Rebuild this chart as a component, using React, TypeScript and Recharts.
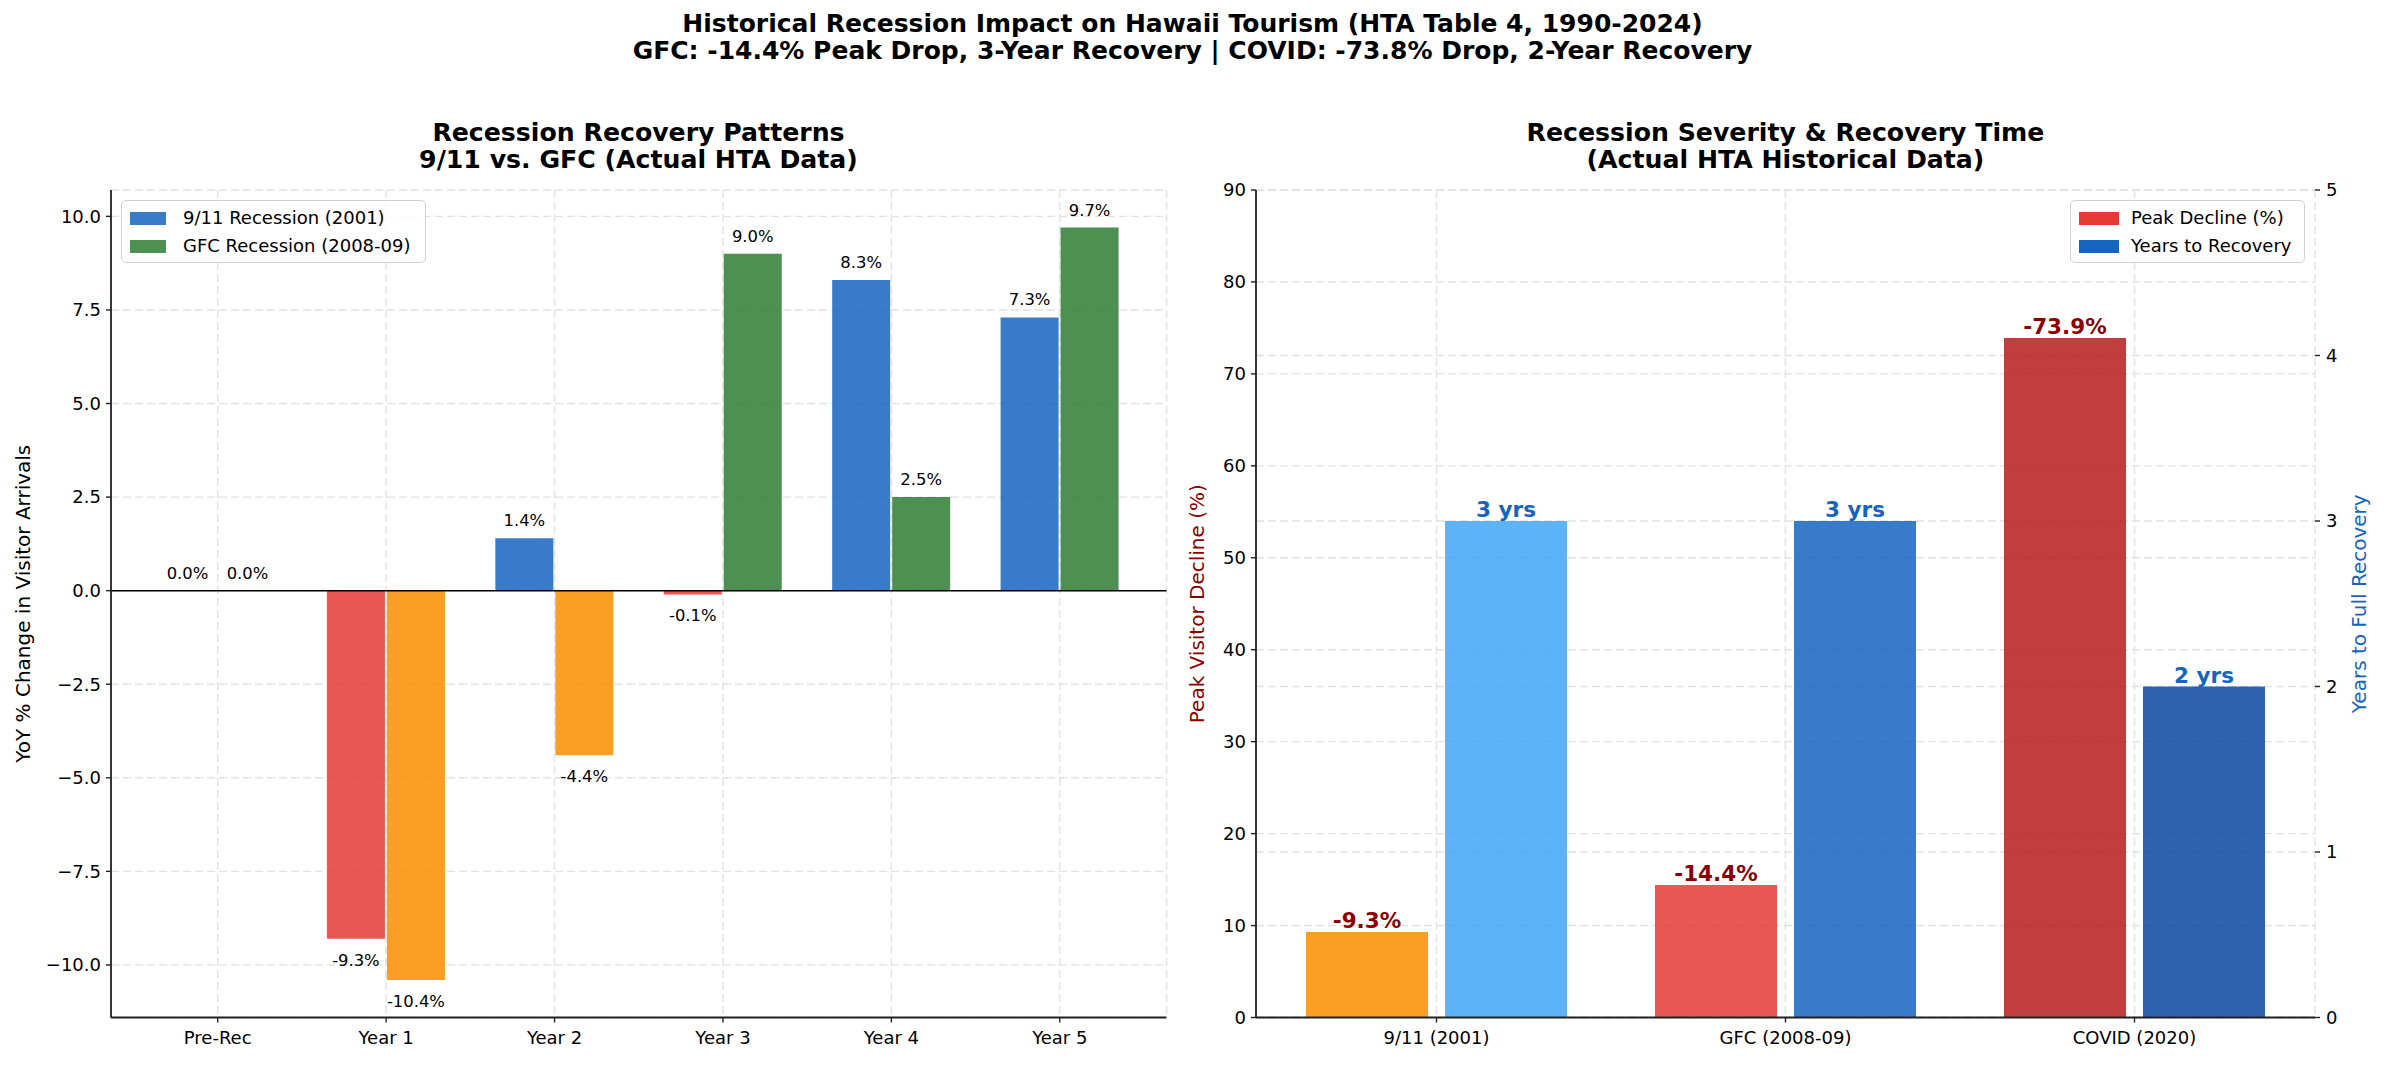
import React from "react";
import { BarChart, Bar, XAxis, YAxis, CartesianGrid, ReferenceLine, Cell } from "recharts";

// left panel: YoY change after each recession
const phases = ["Pre-Rec", "Year 1", "Year 2", "Year 3", "Year 4", "Year 5"];
const sept11Change = [0.0, -9.3, 1.4, -0.1, 8.3, 7.3];
const gfcChange = [0.0, -10.4, -4.4, 9.0, 2.5, 9.7];
const changeTicks = [-10, -7.5, -5, -2.5, 0, 2.5, 5, 7.5, 10];

// right panel: severity vs recovery time
const recessions = ["9/11 (2001)", "GFC (2008-09)", "COVID (2020)"];
const peakDecline = [9.3, 14.4, 73.9];
const recoveryYears = [3, 3, 2];
const declineTicks = [0, 10, 20, 30, 40, 50, 60, 70, 80, 90];
const yearTicks = [0, 1, 2, 3, 4, 5];

const leftLegend = ["9/11 Recession (2001)", "GFC Recession (2008-09)"];
const rightLegend = ["Peak Decline (%)", "Years to Recovery"];

const BLUE = "#1565C0";
const GREEN = "#2E7D32";
const RED = "#E53935";
const ORANGE = "#FB8C00";
const DARK_RED = "#8B0000";
const peakColors = [ORANGE, RED, "#B71C1C"];
const yearColors = ["#42A5F5", BLUE, "#0D47A1"];

const FONT = "DejaVu Sans, sans-serif";
const AXIS = "#222";
const GRID = "#e2e2e2";

const changeData = phases.map((p, i) => ({ phase: p, sept11: sept11Change[i], gfc: gfcChange[i] }));
const severityData = recessions.map((r, i) => ({ name: r, peak: peakDecline[i], years: recoveryYears[i] }));

const fmtTick = (v: number) => (v < 0 ? "\u2212" + Math.abs(v).toFixed(1) : v.toFixed(1));

const axisTitle = (text: string, color: string, dx: number) => (props: any) => {
  const vb = props.viewBox;
  const cx = vb.x + dx;
  const cy = vb.y + vb.height / 2;
  return (
    <text x={cx} y={cy} transform={`rotate(-90 ${cx} ${cy})`} textAnchor="middle" dominantBaseline="central"
      fontSize={20} fill={color} fontFamily={FONT}>
      {text}
    </text>
  );
};

const changeLabel = (props: any) => {
  const { x, y, width, height, value } = props;
  const top = Math.min(y, y + height);
  const bottom = Math.max(y, y + height);
  const ty = value >= 0 ? top - 12 : bottom + 27;
  return (
    <text x={x + width / 2} y={ty} textAnchor="middle" fontSize={16.4} fill="#000" fontFamily={FONT}>
      {value.toFixed(1)}%
    </text>
  );
};

const severityLabel = (fmt: (v: number) => string, color: string) => (props: any) => {
  const { x, y, width, height, value } = props;
  const top = Math.min(y, y + height);
  return (
    <text x={x + width / 2} y={top - 4} textAnchor="middle" fontSize={21.5} fontWeight="bold" fill={color} fontFamily={FONT}>
      {fmt(value)}
    </text>
  );
};

const tickStyle = { fontSize: 18, fill: "#000", fontFamily: FONT };

function LegendBox({ left, labels, colors, swatchW, textX, width, opacity }: any) {
  return (
    <div style={{ position: "absolute", left, top: 200, width, height: 61, border: "1.5px solid #d0d0d0", borderRadius: 5, background: "rgba(255,255,255,0.8)", fontFamily: FONT, fontSize: 18, whiteSpace: "nowrap" }}>
      {labels.map((l: string, i: number) => (
        <div key={l} style={{ position: "absolute", top: 7 + i * 28, left: 0, height: 20 }}>
          <div style={{ position: "absolute", left: 8, width: swatchW, height: 13, top: 4, background: colors[i], opacity }} />
          <span style={{ position: "absolute", left: textX, top: -2, lineHeight: "24px" }}>{l}</span>
        </div>
      ))}
    </div>
  );
}

const titleStyle: React.CSSProperties = { position: "absolute", top: 119, textAlign: "center", fontWeight: "bold", fontSize: 25.2, lineHeight: "27px" };

export default function App() {
  return (
    <div style={{ position: "absolute", left: 0, top: 0, width: 2385, height: 1068, background: "#fff", fontFamily: FONT, overflow: "hidden" }}>
      <div style={{ position: "absolute", left: 0, top: 10, width: 2385, textAlign: "center", fontWeight: "bold", fontSize: 25, lineHeight: "27px" }}>
        <div>Historical Recession Impact on Hawaii Tourism (HTA Table 4, 1990-2024)</div>
        <div>GFC: -14.4% Peak Drop, 3-Year Recovery | COVID: -73.8% Drop, 2-Year Recovery</div>
      </div>
      <div style={{ ...titleStyle, left: 111, width: 1055 }}>
        <div>Recession Recovery Patterns</div>
        <div>9/11 vs. GFC (Actual HTA Data)</div>
      </div>
      <div style={{ ...titleStyle, left: 1256, width: 1059 }}>
        <div>Recession Severity &amp; Recovery Time</div>
        <div>(Actual HTA Historical Data)</div>
      </div>

      <div style={{ position: "absolute", left: 0, top: 0 }}>
        <BarChart width={1170} height={1068} data={changeData} margin={{ top: 190, right: 3.5, bottom: 0.5, left: 0 }} barSize={58} barGap={2}>
          <CartesianGrid stroke={GRID} strokeDasharray="8 4" strokeWidth={1.4} />
          <XAxis dataKey="phase" height={50} padding={{ left: 22.5, right: 22.5 }} tick={tickStyle}
            axisLine={{ stroke: AXIS, strokeWidth: 1.8 }} tickLine={{ stroke: AXIS, strokeWidth: 1.4 }} tickSize={5} tickMargin={9} />
          <YAxis type="number" width={111} domain={[-11.405, 10.705]} ticks={changeTicks} allowDataOverflow
            tickFormatter={fmtTick} tick={tickStyle} axisLine={{ stroke: AXIS, strokeWidth: 1.8 }}
            tickLine={{ stroke: AXIS, strokeWidth: 1.4 }} tickSize={5} tickMargin={5}
            label={axisTitle("YoY % Change in Visitor Arrivals", "#000", 23)} />
          <Bar dataKey="sept11" isAnimationActive={false} fillOpacity={0.85} minPointSize={0.01} label={changeLabel}>
            {sept11Change.map((v, i) => <Cell key={i} fill={v >= 0 ? BLUE : RED} />)}
          </Bar>
          <Bar dataKey="gfc" isAnimationActive={false} fillOpacity={0.85} minPointSize={0.01} label={changeLabel}>
            {gfcChange.map((v, i) => <Cell key={i} fill={v >= 0 ? GREEN : ORANGE} />)}
          </Bar>
          <ReferenceLine y={0} stroke="#000" strokeWidth={1.5} />
        </BarChart>
      </div>

      <div style={{ position: "absolute", left: 1170, top: 0 }}>
        <BarChart width={1215} height={1068} data={severityData} margin={{ top: 190, right: 0, bottom: 0.5, left: 0 }} barSize={122} barGap={17}>
          <CartesianGrid yAxisId="left" stroke={GRID} strokeDasharray="8 4" strokeWidth={1.4} />
          <CartesianGrid yAxisId="right" vertical={false} stroke={GRID} strokeDasharray="8 4" strokeWidth={1.4} />
          <XAxis dataKey="name" height={50} padding={{ left: 6, right: 6 }} tick={tickStyle}
            axisLine={{ stroke: AXIS, strokeWidth: 1.8 }} tickLine={{ stroke: AXIS, strokeWidth: 1.4 }} tickSize={5} tickMargin={9} />
          <YAxis yAxisId="left" type="number" width={86} domain={[0, 90]} ticks={declineTicks} allowDataOverflow
            tick={tickStyle} axisLine={{ stroke: AXIS, strokeWidth: 1.8 }} tickLine={{ stroke: AXIS, strokeWidth: 1.4 }}
            tickSize={5} tickMargin={5} label={axisTitle("Peak Visitor Decline (%)", DARK_RED, 27)} />
          <YAxis yAxisId="right" orientation="right" type="number" width={70} domain={[0, 5]} ticks={yearTicks} allowDataOverflow
            tick={tickStyle} axisLine={false} tickLine={{ stroke: AXIS, strokeWidth: 1.4 }}
            tickSize={5} tickMargin={6} label={axisTitle("Years to Full Recovery", BLUE, 44)} />
          <Bar yAxisId="left" dataKey="peak" isAnimationActive={false} fillOpacity={0.85}
            label={severityLabel((v) => `-${v.toFixed(1)}%`, DARK_RED)}>
            {peakColors.map((c, i) => <Cell key={i} fill={c} />)}
          </Bar>
          <Bar yAxisId="right" dataKey="years" isAnimationActive={false} fillOpacity={0.85}
            label={severityLabel((v) => `${v} yrs`, BLUE)}>
            {yearColors.map((c, i) => <Cell key={i} fill={c} />)}
          </Bar>
        </BarChart>
      </div>

      <LegendBox left={121} labels={leftLegend} colors={[BLUE, GREEN]} swatchW={36} textX={61} width={303} opacity={0.85} />
      <LegendBox left={2070} labels={rightLegend} colors={[RED, BLUE]} swatchW={40} textX={60} width={233} opacity={1} />
    </div>
  );
}
